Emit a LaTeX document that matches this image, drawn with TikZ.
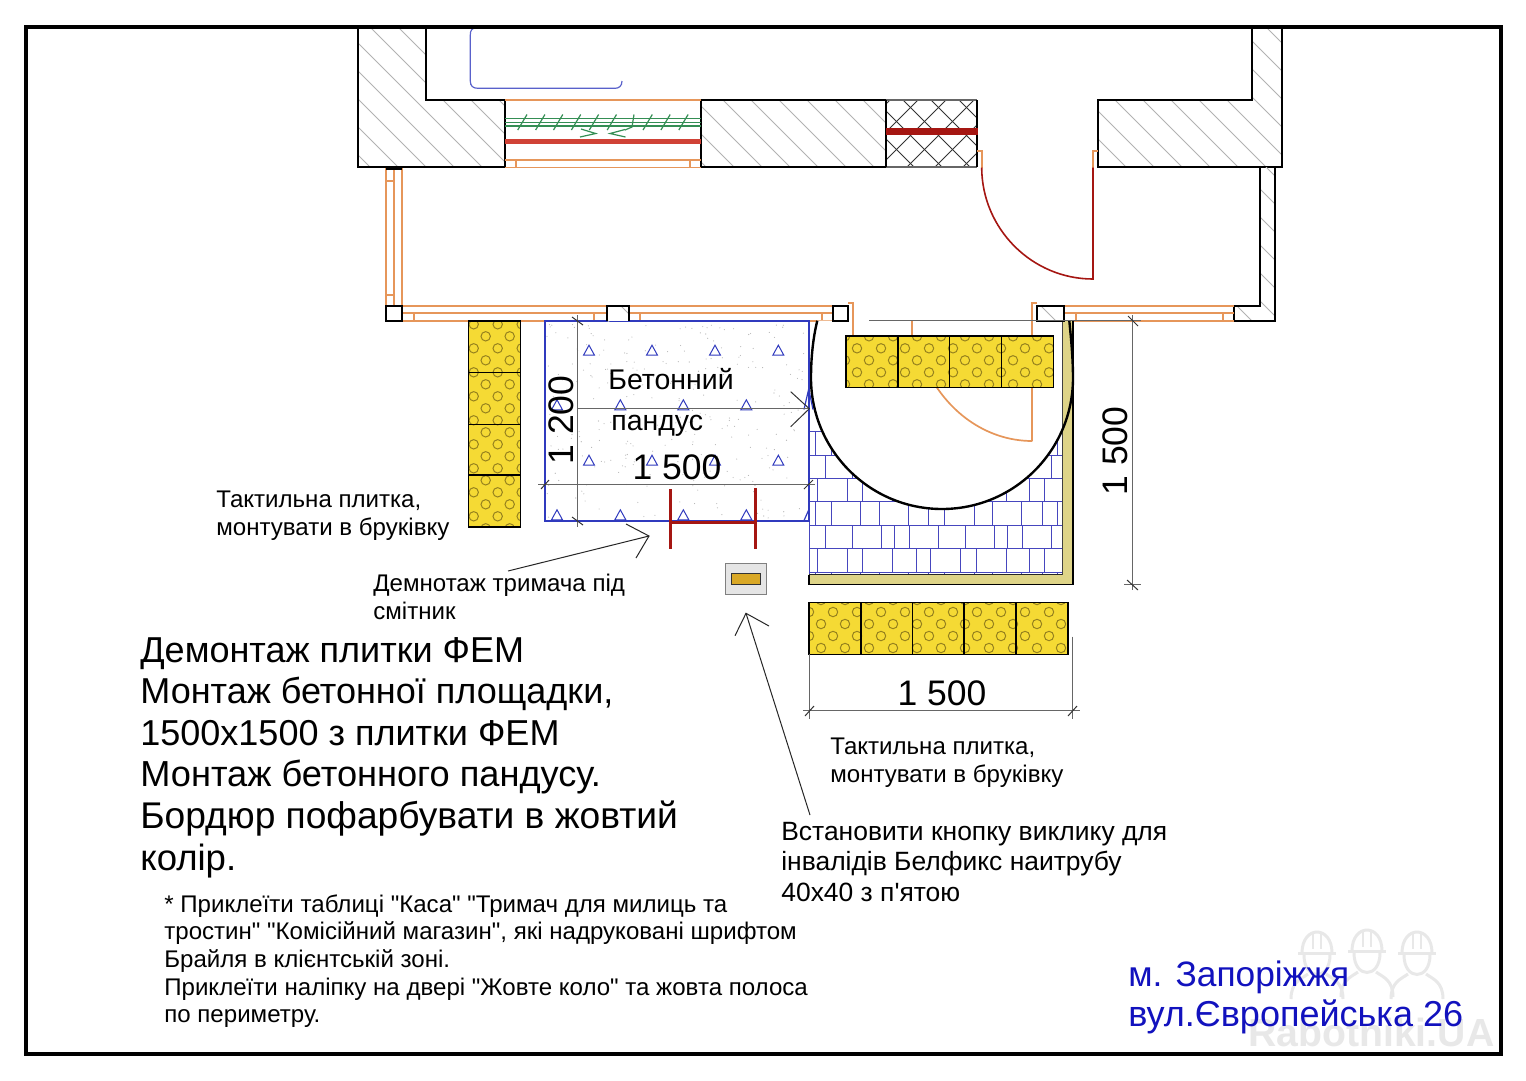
\documentclass[tikz,border=0pt]{standalone}
\usepackage{fontspec}
\setmainfont{Liberation Sans}[Ligatures=TeXOff]
\definecolor{winor}{RGB}{230,150,90}
\definecolor{hatchg}{RGB}{178,178,178}
\definecolor{rampblue}{RGB}{48,58,190}
\definecolor{paveblue}{RGB}{70,70,190}
\definecolor{tiley}{RGB}{245,218,52}
\definecolor{dotol}{RGB}{150,130,30}
\definecolor{curb}{RGB}{222,212,136}
\definecolor{dred}{RGB}{165,22,18}
\definecolor{wred}{RGB}{208,66,54}
\definecolor{grn}{RGB}{52,142,84}
\definecolor{addr}{RGB}{18,18,190}
\definecolor{wm}{RGB}{232,232,232}
\tikzset{
 px/.style={line width=#1*0.567pt},
 wall/.style={draw=black,px=2},
 hatchl/.style={draw=hatchg,px=1},
 win/.style={draw=winor,px=1.7},
 dim/.style={draw=black!60,px=1},
 tick/.style={draw=black!80,px=1},
 lead/.style={draw=black!85,px=1},
 txt/.style={anchor=base west,inner sep=0pt,align=left},
 small/.style={txt,font=\fontsize{13.7}{16}\selectfont},
 mid/.style={txt,font=\fontsize{15.05}{18}\selectfont},
 big/.style={txt,font=\fontsize{20.5}{24}\selectfont},
 dimt/.style={anchor=center,inner sep=0pt,font=\fontsize{20.2}{24}\selectfont},
}
\newcommand{\hatchfill}[1]{\begin{scope}\clip #1;
 \foreach \c in {-9,...,36}{\draw[hatchl] (343+28*\c,0) -- (343+28*\c+1100,1100);}
 \end{scope}}
\newcommand{\tiledots}[6]{% clip x1,y1,x2,y2,x0,y0
 \begin{scope}\clip (#1,#2) rectangle (#3,#4);
 \fill[tiley] (#1,#2) rectangle (#3,#4);
 \foreach \i in {-3,...,12}{\foreach \j in {-3,...,12}{
  \draw[draw=dotol,px=1] (#5+24*\i,#6+24*\j) circle (4.7);
  \draw[draw=dotol,px=1] (#5+12+24*\i,#6+12+24*\j) circle (4.7);}}
 \end{scope}}
\newcommand{\tri}[2]{\draw[draw=rampblue,px=1,fill=white] (#1-5.5,#2+4.5) -- (#1,#2-5.5) -- (#1+5.5,#2+4.5) -- cycle;}
\newcommand{\xjoints}[3]{\foreach \X in {#3}{\draw[draw=paveblue,px=1] (790+\X/3,#1) -- (790+\X/3,#2);}}
\newcommand{\helmet}[2]{%
 \draw[draw=wm,px=3] (#1-19,#2-4) -- (#1+19,#2-4);
 \draw[draw=wm,px=3] (#1-15,#2-4) .. controls (#1-15,#2-32) and (#1+15,#2-32) .. (#1+15,#2-4);
 \draw[draw=wm,px=3] (#1-13,#2-2) .. controls (#1-13,#2+24) and (#1+13,#2+24) .. (#1+13,#2-2);
 \draw[draw=wm,px=2] (#1-4,#2-24) -- (#1-4,#2-8) (#1+4,#2-24) -- (#1+4,#2-8);
 \draw[draw=wm,px=3] (#1-26,#2+42) .. controls (#1-26,#2+25) and (#1-16,#2+22) .. (#1-9,#2+17) (#1+26,#2+42) .. controls (#1+26,#2+25) and (#1+16,#2+22) .. (#1+9,#2+17);
}
\newcommand{\turnpath}{(817.3,320.7) .. controls (813,338) and (811,358) .. (811,378) .. controls (811,450.35) and (869.65,509) .. (942,509) .. controls (1014.35,509) and (1073,450.35) .. (1073,378) .. controls (1073,358) and (1071,338) .. (1069.3,320.7)}
\begin{document}
\begin{tikzpicture}[x=0.02cm,y=-0.02cm]
\useasboundingbox (0,0) rectangle (1526,1080);
\fill[white] (0,0) rectangle (1526,1080);

% watermark
\helmet{1317}{957}\helmet{1367}{955}\helmet{1417}{957}
\node[anchor=base west,inner sep=0pt,text=wm,font=\fontsize{22.3}{24}\selectfont\bfseries] (wmark) at (1248,1046) {Rabotniki.UA};

% hatched walls
\hatchfill{(358,27) -- (358,167) -- (505,167) -- (505,100) -- (426,100) -- (426,27) -- cycle}
\draw[wall] (426,27) -- (426,100) -- (505,100) -- (505,167) -- (358,167) -- (358,27);
\hatchfill{(701,100) rectangle (886,167)}
\draw[wall] (701,100) rectangle (886,167);
\begin{scope}\clip (886,100) rectangle (977,167);
 \foreach \c in {0,...,8}{\draw[draw=black!80,px=1] (791+28*\c-140,-40) -- (791+28*\c+360,460);}
 \foreach \c in {0,...,11}{\draw[draw=black!80,px=1] (850+28*\c,0) -- (850+28*\c-500,500);}
\end{scope}
\draw[draw=black!60,px=1.5] (886,100) -- (977,100) (886,167) -- (977,167);
\draw[wall] (886,100) -- (886,167) (977,100) -- (977,167);
\hatchfill{(1098,100) -- (1098,167) -- (1282,167) -- (1282,27) -- (1252,27) -- (1252,100) -- cycle}
\draw[wall] (1252,27) -- (1252,100) -- (1098,100) -- (1098,167) -- (1282,167) -- (1282,27);
\hatchfill{(1260,167) -- (1275,167) -- (1275,321) -- (1234,321) -- (1234,306) -- (1260,306) -- cycle}
\draw[wall] (1260,167) -- (1260,306) -- (1234,306) -- (1234,321) -- (1275,321) -- (1275,167);

% red cut lines
\draw[draw=dred,px=6.5] (886,131.5) -- (978,131.5);
% window top
\draw[win] (505,100) -- (701,100) (505,160) -- (701,160) (505,167.5) -- (701,167.5) (515.7,160) -- (515.7,167.5) (690,160) -- (690,167.5);
\foreach \g in {118.3,122.3,126}{\draw[draw=grn,px=1.2] (505,\g) -- (701,\g);}
\foreach \k in {0,...,9}{\ifnum\k=6\else\draw[draw=grn,px=1.2] (517.7+17.9*\k,130) -- (527+17.9*\k,114.5);\fi}
\draw[draw=grn,px=1.2] (634,114.5) -- (632,127) -- (625,130);
\draw[draw=grn,px=1.2] (580,137) -- (595.7,133.5) -- (581,129);
\draw[draw=grn,px=1.2] (625.5,137) -- (610,133.5) -- (625,129.5);
\draw[draw=wred,px=5.5] (505,141.3) -- (701,141.3);
% sink
\draw[draw=rampblue!80!white,px=1.2] (477,27.5) .. controls (472,28) and (470.3,30) .. (470.3,35) -- (470.3,81) .. controls (470.3,86) and (473,88.3) .. (478,88.3) -- (615,88.3) .. controls (619,88.3) and (622,86) .. (622,81);

% door
\draw[win] (977,150.7) -- (981.7,150.7) -- (981.7,167.7);
\draw[win] (1098,150.7) -- (1092.7,150.7) -- (1092.7,167.7);
\draw[draw=dred,px=1.6] (981.7,167.7) .. controls (982,229) and (1032,279) .. (1093,279) -- (1093,167.7);

% left vertical window
\draw[win] (386,168) -- (386,306) (394.3,168) -- (394.3,306) (402.3,168) -- (402.3,306) (386,180.7) -- (394.3,180.7) (386,295) -- (394.3,295);
\draw[draw=black,px=2.5] (386,168.5) -- (402.3,168.5);
% windows
\draw[win] (402,305.7) -- (607,305.7) (402,313.3) -- (607,313.3) (402,321) -- (607,321)
 (629,305.7) -- (833,305.7) (629,313.3) -- (833,313.3) (629,321) -- (833,321)
 (414,313.3) -- (414,321) (594,313.3) -- (594,321) (640,313.3) -- (640,321) (821.7,313.3) -- (821.7,321);
\draw[win] (1064,305.7) -- (1234,305.7) (1064,313.3) -- (1234,313.3) (1064,321) -- (1234,321)
 (1075.7,313.3) -- (1075.7,321) (1222.7,313.3) -- (1222.7,321);

% pavers
\foreach \r in {431.7,455,478.3,501.7,525.3,548.7,572}{\draw[draw=paveblue,px=1] (809.3,\r) -- (1062.3,\r);}
\draw[draw=paveblue,px=1] (809.3,388) -- (809.3,574.7) (1062.3,400) -- (1062.3,574.7);
\xjoints{431.7}{455}{76,123,212,268,356,416,462,552,606,695,756,802}
\xjoints{455}{478.3}{107,187,275,314,358,446,526,614,652,696,785}
\xjoints{478.3}{501.7}{83,172,218,308,378,422,511,560,648,718,762}
\xjoints{501.7}{525.3}{76,123,212,268,356,416,462,552,606,695,756,802}
\xjoints{525.3}{548.7}{107,187,275,314,358,446,526,614,652,696,785}
\xjoints{548.7}{572}{83,172,218,308,378,422,511,560,648,718,762}
\xjoints{572}{574.7}{76,123,212,268,356,416,462,552,606,695,756,802}
% white turning circle
\fill[white] \turnpath -- cycle;
% lower door seen through the circle, under the tiles
\draw[win] (848,303.3) -- (853,303.3) -- (853,336) (1037,303.3) -- (1032.3,303.3) -- (1032.3,441);
\draw[win] (911.7,320.7) -- (911.7,336);
\draw[win] (1032.3,441) .. controls (986,441) and (945,411) .. (925,366);
% curb
\fill[curb] (1062.3,321) -- (1062.3,574.7) -- (808.7,574.7) -- (808.7,584.3) -- (1072.7,584.3) -- (1072.7,321) -- cycle;
\draw[draw=black!75,px=1] (1062.3,321) -- (1062.3,574.7);
\draw[draw=black!85,px=1.2] (1062.3,574.7) -- (808.7,574.7);
\draw[draw=black,px=1.6] (808.7,574.7) -- (808.7,584.3) -- (1072.7,584.3) -- (1072.7,321);
% turning circle outline
\draw[draw=black,px=2.4] \turnpath;

% ramp
\fill[white] (544.7,321) rectangle (808.7,521);
\pgfmathsetseed{11}
\foreach \i in {1,...,280}{\pgfmathsetmacro\dx{547+rnd*259}\pgfmathsetmacro\dy{324+rnd*194}\fill[black!30] (\dx,\dy) circle (0.55);}
\foreach \X in {387,576,765,955}{\tri{460+\X/3}{350.7}\tri{460+\X/3}{460.7}}
\foreach \X in {291,481,670,859}{\tri{460+\X/3}{405.3}\tri{460+\X/3}{515.3}}
\draw[draw=rampblue,px=1.6] (544.7,321) rectangle (808.7,521);
\draw[draw=rampblue,px=1.2] (804,409.5) -- (808.7,389) -- (813,409.5);
\draw[draw=rampblue,px=1.2] (804,520.5) -- (808.7,510);

% tiles
\tiledots{468.3}{321}{520.3}{527}{485.7}{336.3}
\draw[draw=black,px=1.6] (468.3,321) rectangle (520.3,527) (468.3,372.3) -- (520.3,372.3) (468.3,424.3) -- (520.3,424.3) (468.3,475) -- (520.3,475);
\tiledots{845.7}{335.7}{1053.3}{387.3}{857}{348.3}
\draw[draw=black,px=1.6] (845.7,335.7) rectangle (1053.3,387.3) (897.7,335.7) -- (897.7,387.3) (949.3,335.7) -- (949.3,387.3) (1001.3,335.7) -- (1001.3,387.3);
\tiledots{809}{602.3}{1067.7}{654.3}{833}{612}
\draw[draw=black,px=1.6] (809,602.3) rectangle (1067.7,654.3) (860.7,602.3) -- (860.7,654.3) (912.3,602.3) -- (912.3,654.3) (964,602.3) -- (964,654.3) (1016,602.3) -- (1016,654.3);

% columns
\foreach \a/\b in {386/402,833/848}{\draw[wall,fill=white] (\a,306) rectangle (\b,321);}
\fill[white] (607,306) rectangle (629,321);\hatchfill{(607,306) rectangle (629,321)}
\draw[wall] (607,321) -- (607,306) -- (629,306) -- (629,321);
\fill[white] (1037,306) rectangle (1064,321);\hatchfill{(1037,306) rectangle (1064,321)}
\draw[wall] (1037,306) rectangle (1064,321);

% dimensions
\draw[dim] (577.7,315) -- (577.7,527);
\draw[tick] (572,317) -- (583,325) (572,517) -- (583,525);
\draw[dim] (538,484.7) -- (815,484.7);
\draw[tick] (541,489) -- (549,480) (804,489) -- (813,480);
\draw[dim] (578,408.7) -- (809,408.7);
\draw[tick] (790.7,391.7) -- (809.3,408.7) -- (790.7,426.7);
\draw[dim] (869,320.7) -- (1141,320.7);
\draw[dim] (1132.7,315) -- (1132.7,590) (1124,584.5) -- (1141,584.5);
\draw[tick] (1128,316) -- (1138,326) (1127,580) -- (1138,590);
\draw[dim] (803,710.7) -- (1080,710.7) (809.3,654) -- (809.3,719) (1072.7,636.7) -- (1072.7,719);
\draw[tick] (805,716) -- (814,706) (1068,716) -- (1077,706);

% red demolition bar
\draw[draw=dred,px=3.5] (670.7,489) -- (670.7,549.3) (755.7,488) -- (755.7,549.3) (670.7,522.3) -- (755.7,522.3);

% button post
\draw[draw=black!50,px=1.2,fill=black!10] (725.3,563.3) rectangle (766.7,594.3);
\draw[draw=black!80,px=1,fill=orange!55!yellow!70!gray] (731,573.7) rectangle (760,584);

% leaders
\coordinate (dtip) at (649,536);
\coordinate (dend) at (508,571);
\coordinate (btip) at (746,613.3);
\coordinate (bend) at (810,815);
\draw[lead] (dend) -- (dtip);
\draw[lead] (626,524) -- (dtip) -- (636,558);
\draw[lead] (bend) -- (btip);
\draw[lead] (735,635.7) -- (btip) -- (769,626);

% dimension labels
\node[dimt,rotate=90] (d1200) at (561,420) {1 200};
\node[dimt] (d1500a) at (677,467) {1 500};
\node[dimt,rotate=90] (d1500b) at (1115,451) {1 500};
\node[dimt] (d1500c) at (942,693) {1 500};

% labels
\node[txt,font=\fontsize{16.2}{18}\selectfont] (ramp1) at (608,389) {Бетонний};
\node[txt,font=\fontsize{16.2}{18}\selectfont] (ramp2) at (611,430) {пандус};
\node[small] (tact1a) at (216,507) {Тактильна плитка,};
\node[small] (tact1b) at (216,535) {монтувати в бруківку};
\node[small] (dem1) at (373,591) {Демнотаж тримача під};
\node[small] (dem2) at (373,619) {смітник};
\node[small] (tact2a) at (830,754) {Тактильна плитка,};
\node[small] (tact2b) at (830,782) {монтувати в бруківку};
\node[mid] (btn1) at (781,840) {Встановити кнопку виклику для};
\node[mid] (btn2) at (781,870) {інвалідів Белфикс наитрубу};
\node[mid] (btn3) at (781,901) {40х40 з п'ятою};
\node[big] (m1) at (140,662) {Демонтаж плитки ФЕМ};
\node[big] (m2) at (140,703) {Монтаж бетонної площадки,};
\node[big] (m3) at (140,745) {1500х1500 з плитки ФЕМ};
\node[big,font=\fontsize{20.6}{24}\selectfont] (m4) at (140,786) {Монтаж бетонного пандусу.};
\node[big,font=\fontsize{21.15}{24}\selectfont] (m5) at (140,828) {Бордюр пофарбувати в жовтий};
\node[big,font=\fontsize{20.8}{24}\selectfont] (m6) at (140,870) {колір.};
\node[small] (n1) at (164,912) {* Приклеїти таблиці "Каса" "Тримач для милиць та};
\node[small] (n2) at (164,939) {тростин" "Комісійний магазин", які надруковані шрифтом};
\node[small] (n3) at (164,967) {Брайля в клієнтській зоні.};
\node[small] (n4) at (164,995) {Приклеїти наліпку на двері "Жовте коло" та жовта полоса};
\node[small] (n5) at (164,1022) {по периметру.};
\node[big,text=addr,font=\fontsize{20.1}{24}\selectfont] (a1) at (1128,986) {м. Запоріжжя};
\node[big,text=addr] (a2) at (1128,1026) {вул.Європейська 26};

% frame
\draw[draw=black,px=4] (26,27) rectangle (1501,1054);
\end{tikzpicture}
\end{document}
